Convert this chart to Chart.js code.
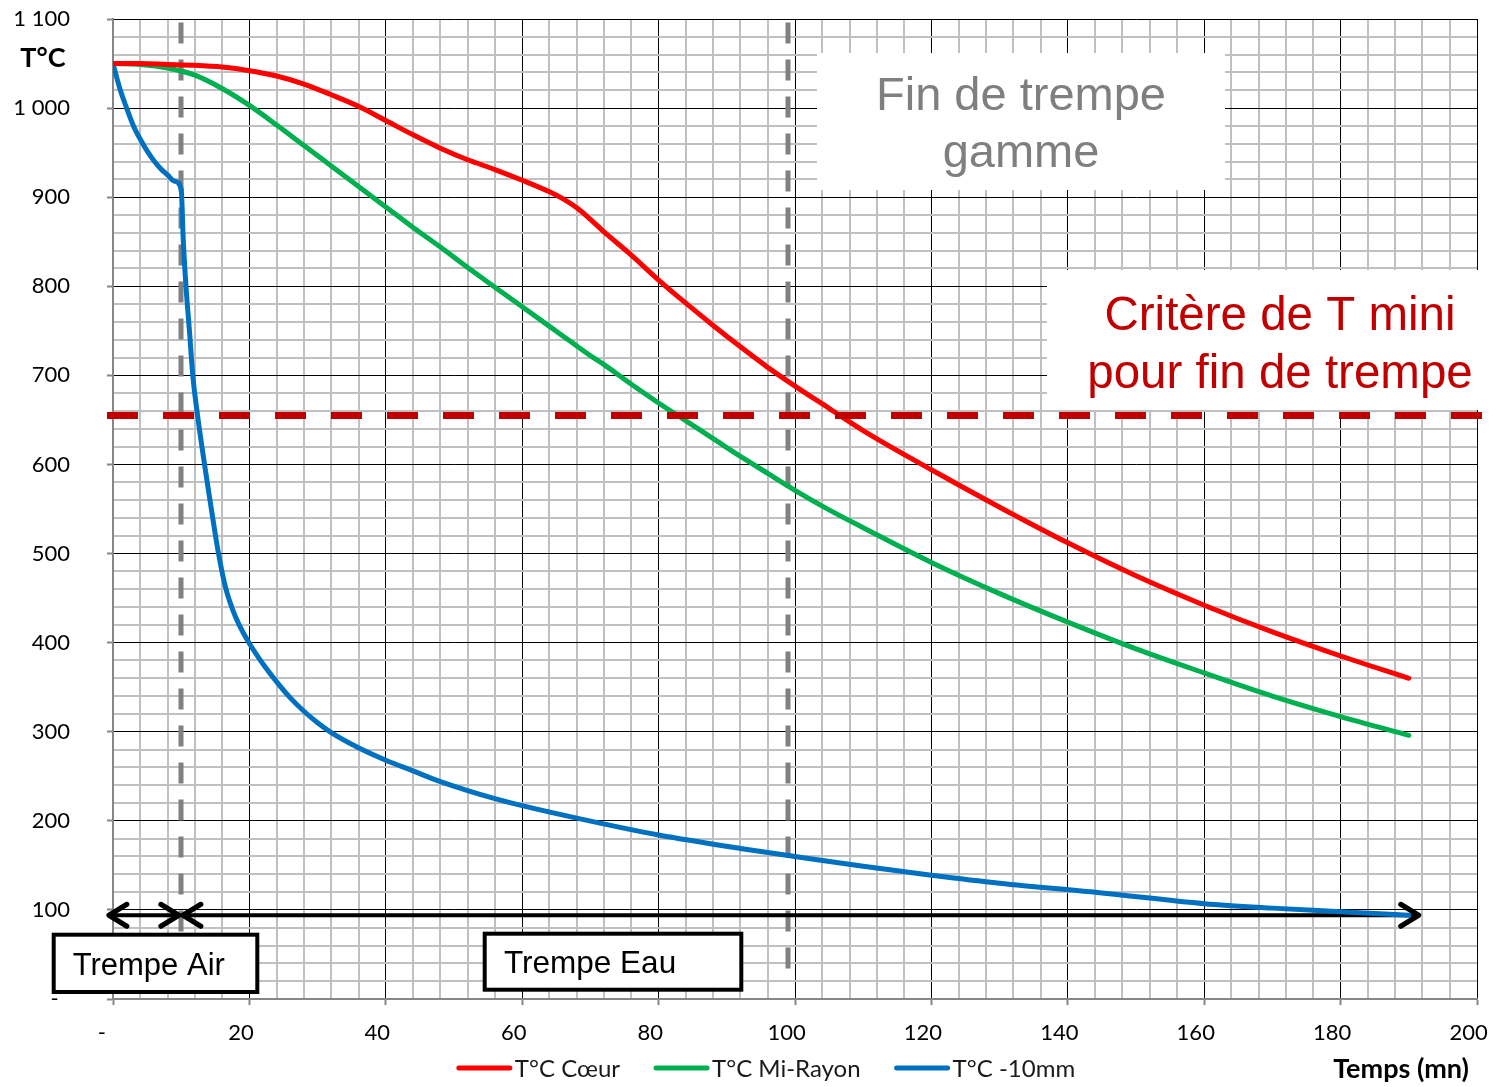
<!DOCTYPE html>
<html>
<head>
<meta charset="utf-8">
<script src="https://cdn.jsdelivr.net/npm/chart.js@4/dist/chart.umd.min.js"></script>
<style>
  html, body { margin: 0; padding: 0; background: #fff; }
  #wrap { width: 1502px; height: 1087px; position: relative; }
</style>
</head>
<body>
<div id="wrap"><canvas id="c" width="1502" height="1087"></canvas></div>
<script>
// Temps (mn) for the core and mid-radius probes
const tempsCoeur = [0, 4, 8, 12, 16, 20, 24, 28, 32, 36, 40, 44, 48, 52, 56, 60, 64, 66, 68, 70, 72, 76, 80, 84, 88, 92, 96, 100, 105, 110, 120, 130, 140, 150, 160, 170, 180, 190];
// T°C Cœur
const tCoeur = [1050, 1050, 1049, 1048, 1046, 1042, 1036, 1027, 1015, 1002, 986, 970, 955, 942, 931, 919, 906, 898, 888, 875, 861, 835, 807, 781, 756, 732, 709, 688, 663, 638, 594, 552, 512, 475, 442, 412, 385, 360];
// T°C Mi-Rayon
const tMiRayon = [1050, 1049, 1045, 1037, 1022, 1003, 981, 958, 935, 912, 889, 866, 844, 821, 799, 777, 755, 744, 733, 722, 712, 690, 669, 649, 629, 609, 590, 571, 549, 529, 490, 455, 423, 393, 366, 340, 317, 296];
// Temps (mn) for the probe 10 mm under the surface
const tempsPeau = [0, 1, 2, 3, 4, 5, 6, 7, 8, 9, 10, 10.3, 10.7, 11.2, 11.7, 12.4, 13.5, 14.5, 15.4, 16.5, 17.5, 18.5, 20, 22, 24, 26, 28, 30, 32, 36, 40, 44, 48, 52, 56, 60, 68, 80, 92, 100, 110, 120, 130, 145, 160, 170, 180, 190];
// T°C -10mm
const tPeau = [1050, 1022, 1000, 980, 965, 952, 941, 932, 925, 918, 909, 852, 800, 751, 700, 655, 596, 546, 503, 462, 438, 420, 399, 376, 356, 338, 323, 310, 299, 282, 268, 256, 244, 234, 225, 217, 203, 184, 169, 160, 149, 139, 130, 119, 107, 102, 98, 94];

const seriesNames = ['T°C Cœur', 'T°C Mi-Rayon', 'T°C -10mm'];
const seriesColors = ['#ff0000', '#00b050', '#0070c0'];

// Quench phases and threshold
const finTrempeAir = 10;      // end of air quench (mn)
const finTrempeGamme = 99;    // end of quench per routing (mn)
const tMiniFinTrempe = 655;   // minimum temperature criterion (°C)
const niveauFleches = 94;     // level of the phase arrows (°C)
const phasesAir = [-0.75, 9.8];
const phasesEau = [10.1, 191.6];

const pts = (xs, ys) => xs.map((v, i) => ({ x: v, y: ys[i] }));
const fmtMilliers = v => String(v).replace(/\B(?=(\d{3})+(?!\d))/g, ' ');

const overlay = {
  id: 'overlay',
  beforeDatasetsDraw(chart) {
    const { ctx, scales: { x, y } } = chart;
    ctx.save();
    // vertical phase separators
    ctx.strokeStyle = '#808080';
    ctx.lineWidth = 5;
    ctx.setLineDash([21, 16]);
    for (const t of [finTrempeAir, finTrempeGamme]) {
      const px = Math.round(x.getPixelForValue(t));
      ctx.beginPath();
      ctx.moveTo(px, y.getPixelForValue(1096));
      ctx.lineTo(px, y.getPixelForValue(23));
      ctx.stroke();
    }
    ctx.setLineDash([]);
    // double arrows for the air and water phases
    const py = y.getPixelForValue(niveauFleches);
    ctx.strokeStyle = '#000';
    ctx.lineJoin = 'round';
    ctx.lineCap = 'round';
    for (const [a, b] of [phasesAir, phasesEau]) {
      const x0 = x.getPixelForValue(a), x1 = x.getPixelForValue(b);
      ctx.lineWidth = 4;
      ctx.beginPath();
      ctx.moveTo(x0 + 2, py); ctx.lineTo(x1 - 2, py);
      ctx.stroke();
      ctx.lineWidth = 5;
      ctx.beginPath();
      ctx.moveTo(x0 + 19, py - 11); ctx.lineTo(x0 + 1, py); ctx.lineTo(x0 + 19, py + 11);
      ctx.moveTo(x1 - 19, py - 11); ctx.lineTo(x1 - 1, py); ctx.lineTo(x1 - 19, py + 11);
      ctx.stroke();
    }
    ctx.restore();
  },
  afterDatasetsDraw(chart) {
    const { ctx, scales: { x, y } } = chart;
    ctx.save();
    // minimum temperature line
    const py = y.getPixelForValue(tMiniFinTrempe);
    ctx.strokeStyle = '#c00000';
    ctx.lineWidth = 7;
    ctx.lineCap = 'butt';
    ctx.setLineDash([31, 25]);
    ctx.beginPath();
    ctx.moveTo(x.getPixelForValue(0) - 6, py);
    ctx.lineTo(x.getPixelForValue(200) + 5, py);
    ctx.stroke();
    ctx.setLineDash([]);

    // text boxes
    ctx.fillStyle = '#fff';
    ctx.fillRect(817, 53, 408, 137);
    ctx.fillRect(1047, 270, 436, 140);

    ctx.textAlign = 'center';
    ctx.textBaseline = 'alphabetic';
    ctx.fillStyle = '#7f7f7f';
    ctx.font = '47px "Liberation Sans", Arial, sans-serif';
    ctx.fillText('Fin de trempe', 1021, 110);
    ctx.fillText('gamme', 1021, 167);

    ctx.fillStyle = '#c00000';
    ctx.font = '47.5px "Liberation Sans", Arial, sans-serif';
    ctx.fillText('Critère de T mini', 1280, 330);
    ctx.fillText('pour fin de trempe', 1280, 388);

    // phase labels
    ctx.lineWidth = 4;
    ctx.strokeStyle = '#000';
    ctx.lineJoin = 'miter';
    ctx.fillStyle = '#fff';
    ctx.fillRect(53.7, 934.7, 203.6, 57.3);
    ctx.strokeRect(53.7, 934.7, 203.6, 57.3);
    ctx.fillRect(484.7, 933.7, 256.6, 56);
    ctx.strokeRect(484.7, 933.7, 256.6, 56);
    ctx.fillStyle = '#000';
    ctx.textAlign = 'left';
    ctx.font = '31px "Liberation Sans", Arial, sans-serif';
    ctx.fillText('Trempe Air', 72.7, 975);
    ctx.font = '31.5px "Liberation Sans", Arial, sans-serif';
    ctx.fillText('Trempe Eau', 504, 973.3);
    ctx.restore();
  },
  afterDraw(chart) {
    const { ctx } = chart;
    ctx.save();
    // axis titles
    ctx.fillStyle = '#000';
    ctx.font = 'bold 27px Lato, sans-serif';
    ctx.textAlign = 'center';
    ctx.textBaseline = 'alphabetic';
    ctx.fillText('T°C', 43, 66.7);
    ctx.textAlign = 'right';
    ctx.fillText('Temps (mn)', 1469, 1078);

    // legend
    ctx.font = '24px Lato, sans-serif';
    ctx.textAlign = 'left';
    ctx.textBaseline = 'middle';
    const lineLen = 55, gapText = 3, gapItem = 34;
    const widths = chart.data.datasets.map(d => lineLen + gapText + ctx.measureText(d.label).width);
    const total = widths.reduce((a, b) => a + b, 0) + gapItem * (widths.length - 1);
    let lx = 766 - total / 2;
    const ly = 1068;
    chart.data.datasets.forEach((d, i) => {
      ctx.strokeStyle = d.borderColor;
      ctx.lineWidth = 5;
      ctx.lineCap = 'round';
      ctx.beginPath();
      ctx.moveTo(lx + 2, ly); ctx.lineTo(lx + lineLen - 2, ly);
      ctx.stroke();
      ctx.fillStyle = '#1a1a1a';
      ctx.fillText(d.label, lx + lineLen + gapText, ly + 1);
      lx += widths[i] + gapItem;
    });
    ctx.restore();
  }
};

const isMajor = c => c.tick && c.tick.value % (c.scale.axis === 'x' ? 20 : 100) === 0;
const gridColor = c => isMajor(c) ? '#000' : '#c0c0c0';
const gridWidth = c => isMajor(c) ? 1 : 2;
const tickColor = c => isMajor(c) ? '#868686' : 'rgba(0,0,0,0)';

new Chart(document.getElementById('c'), {
  type: 'line',
  data: {
    datasets: [
      { label: seriesNames[0], data: pts(tempsCoeur, tCoeur), borderColor: seriesColors[0] },
      { label: seriesNames[1], data: pts(tempsCoeur, tMiRayon), borderColor: seriesColors[1] },
      { label: seriesNames[2], data: pts(tempsPeau, tPeau), borderColor: seriesColors[2] }
    ].map(d => Object.assign(d, {
      borderWidth: 5,
      pointRadius: 0,
      fill: false,
      cubicInterpolationMode: 'monotone',
      borderCapStyle: 'round',
      borderJoinStyle: 'round'
    }))
  },
  options: {
    responsive: false,
    animation: false,
    devicePixelRatio: 1,
    layout: { padding: { left: 0, right: 25, top: 19, bottom: 0 } },
    plugins: { legend: { display: false }, tooltip: { enabled: false } },
    scales: {
      x: {
        type: 'linear',
        min: 0, max: 200,
        afterFit: s => { s.height = 88; s.paddingLeft = 0; s.paddingRight = 0; },
        ticks: {
          stepSize: 4, autoSkip: false, maxRotation: 0, minRotation: 0,
          padding: 15,
          color: '#000',
          font: { family: 'Lato', size: 22 },
          // accounting-style labels: trailing blank, dash for zero
          callback: v => v % 20 !== 0 ? '' : (v === 0 ? '-    ' : String(v) + '   ')
        },
        grid: { color: gridColor, lineWidth: gridWidth, tickColor: tickColor, tickLength: 6, tickWidth: 2 },
        border: { color: '#868686', width: 2 }
      },
      y: {
        type: 'linear',
        min: 0, max: 1100,
        afterFit: s => { s.width = 113; s.paddingTop = 0; s.paddingBottom = 0; },
        ticks: {
          stepSize: 20, autoSkip: false,
          padding: 37,
          color: '#000',
          font: { family: 'Lato', size: 22 },
          callback: v => v % 100 !== 0 ? '' : (v === 0 ? '-  ' : fmtMilliers(v))
        },
        grid: { color: gridColor, lineWidth: gridWidth, tickColor: tickColor, tickLength: 6, tickWidth: 2 },
        border: { color: '#868686', width: 2 }
      }
    }
  },
  plugins: [overlay]
});
</script>
</body>
</html>
